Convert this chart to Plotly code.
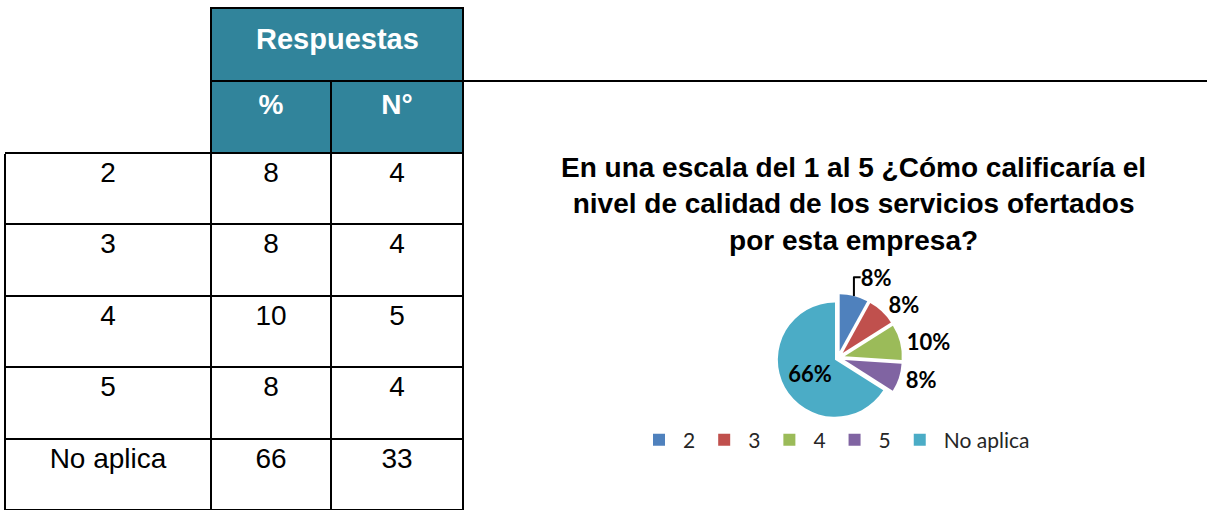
import plotly.graph_objects as go

# ─── Data ─────────────────────────────────────────────────────────────────────
categorias = ["2", "3", "4", "5", "No aplica"]
porcentaje = [8, 8, 10, 8, 66]
numero     = [4, 4, 5, 4, 33]

titulo = "En una escala del 1 al 5 ¿Cómo calificaría el<br>nivel de calidad de los servicios ofertados<br>por esta empresa?"

# ─── Theme ────────────────────────────────────────────────────────────────────
W, H      = 1207, 510
TEAL      = "#31849B"
PIE_CLRS  = ["#4F81BD", "#C0504D", "#9BBB59", "#8064A2", "#4BACC6"]
ARIAL     = "Liberation Sans, Arial, sans-serif"
CALIBRI   = "Lato, Carlito, Calibri, sans-serif"


def px_x(v):
    return v / W


def px_y(v):
    return 1 - v / H


fig = go.Figure()

# ── Table (left) ──────────────────────────────────────────────────────────────
fig.add_trace(go.Table(
    domain=dict(x=[px_x(5), px_x(463)], y=[0, px_y(81)]),
    columnwidth=[206, 120, 132],
    header=dict(
        values=["", "<b>%</b>", "<b>N°</b>"],
        fill_color=["white", TEAL, TEAL],
        line=dict(color=["white", "black", "black"], width=2),
        font=dict(family=ARIAL, size=28, color="white"),
        align="center",
        height=72,
    ),
    cells=dict(
        values=[categorias, porcentaje, numero],
        fill_color="white",
        line=dict(color="black", width=2),
        font=dict(family=ARIAL, size=28, color="black"),
        align="center",
        height=71.4,
    ),
))

# ── Pie (right) ───────────────────────────────────────────────────────────────
cx, cy, r = 838, 358, 64
fig.add_trace(go.Pie(
    labels=categorias,
    values=numero,
    sort=False,
    direction="clockwise",
    rotation=0,
    pull=[0.12, 0.12, 0.12, 0.12, 0.06],
    marker=dict(colors=PIE_CLRS, line=dict(color="white", width=0)),
    texttemplate="<b>%{percent:.0%}</b>",
    textposition=["outside", "outside", "outside", "outside", "inside"],
    textfont=dict(family=CALIBRI, size=22, color="black"),
    insidetextorientation="horizontal",
    domain=dict(x=[px_x(cx - r), px_x(cx + r)], y=[px_y(cy + r), px_y(cy - r)]),
    showlegend=True,
    hoverinfo="label+percent",
))

# merged "Respuestas" header + long rule
shapes = [
    dict(type="rect", xref="paper", yref="paper",
         x0=px_x(211), x1=px_x(463), y0=px_y(81), y1=px_y(8),
         fillcolor=TEAL, line=dict(color="black", width=2)),
    dict(type="line", xref="paper", yref="paper",
         x0=px_x(463), x1=1, y0=px_y(81), y1=px_y(81),
         line=dict(color="black", width=2)),
    dict(type="line", xref="paper", yref="paper",
         x0=px_x(5), x1=px_x(211), y0=px_y(153), y1=px_y(153),
         line=dict(color="black", width=2)),
]

annotations = [
    dict(text="<b>Respuestas</b>", xref="paper", yref="paper",
         x=px_x(337), y=px_y(39), xanchor="center", yanchor="middle",
         showarrow=False, font=dict(family=ARIAL, size=29, color="white")),
    dict(text=f"<b>{titulo}</b>", xref="paper", yref="paper",
         x=px_x(853), y=px_y(204), xanchor="center", yanchor="middle",
         showarrow=False, align="center",
         font=dict(family=ARIAL, size=28, color="black")),
]

fig.update_layout(
    width=W, height=H,
    paper_bgcolor="white", plot_bgcolor="white",
    margin=dict(l=0, r=0, t=0, b=0),
    shapes=shapes,
    annotations=annotations,
    legend=dict(
        orientation="h",
        x=px_x(635), y=px_y(440),
        xanchor="left", yanchor="middle",
        font=dict(family=CALIBRI, size=21, color="#262626"),
        bgcolor="rgba(0,0,0,0)",
        traceorder="normal",
        itemwidth=38,
    ),
)

fig.write_html("out.html", config={"displayModeBar": False},
               post_script="document.body.style.margin='0';")
